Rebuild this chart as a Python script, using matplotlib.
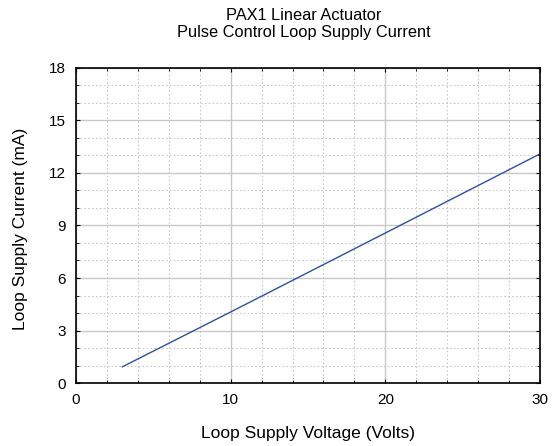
import matplotlib
matplotlib.use('Agg')
import matplotlib.pyplot as plt
from matplotlib.ticker import MultipleLocator

plt.rcParams['font.family'] = ['Liberation Sans', 'DejaVu Sans']

# supply voltage (V) vs loop current (mA)
voltage = [3, 10, 20, 30]
current = [0.93, 4.06, 8.57, 13.09]

fig = plt.figure(figsize=(5.58, 4.46), dpi=100)
ax = fig.add_axes([0.136, 0.141, 0.832, 0.707])

ax.plot(voltage, current, color='#2f4fa0', lw=1.0)

ax.set_xlim(0, 30)
ax.set_ylim(0, 18)
ax.xaxis.set_major_locator(MultipleLocator(10))
ax.xaxis.set_minor_locator(MultipleLocator(2))
ax.yaxis.set_major_locator(MultipleLocator(3))
ax.yaxis.set_minor_locator(MultipleLocator(1))

ax.grid(which='major', color='#c8c8c8', lw=1.0, ls='-')
ax.grid(which='minor', color='#c8c8c8', lw=0.8, ls=(0, (1.5, 2)))
ax.set_axisbelow(True)

ax.tick_params(which='both', direction='in', top=True, right=True, labelsize=11)
ax.tick_params(which='major', length=3)
ax.tick_params(which='minor', length=2)
ax.tick_params(axis='x', which='major', pad=7)
ax.tick_params(axis='y', which='major', pad=7)
for s in ax.spines.values():
    s.set_linewidth(1.2)

ax.set_xlabel('Loop Supply Voltage (Volts)', fontsize=12.5, va='center')
ax.set_ylabel('Loop Supply Current (mA)', fontsize=12.5, va='center')
ax.xaxis.set_label_coords(0.5, -(433 - 383) / 315)
ax.yaxis.set_label_coords(-(76 - 21) / 464, 0.49)
fig.text(0.545, 1 - 15 / 446, 'PAX1 Linear Actuator', ha='center', va='center', fontsize=11.8)
fig.text(0.545, 1 - 33 / 446, 'Pulse Control Loop Supply Current', ha='center', va='center', fontsize=11.8)

fig.savefig('out.png', dpi=100)
